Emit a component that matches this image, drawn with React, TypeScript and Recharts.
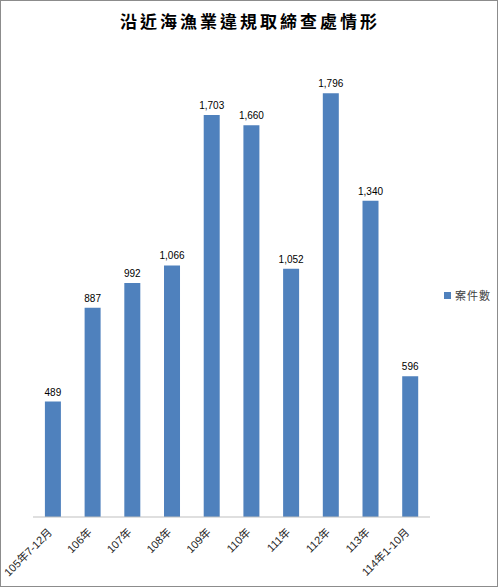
import { BarChart, Bar, XAxis, YAxis, LabelList } from "recharts";

const categories = ["105年7-12月", "106年", "107年", "108年", "109年", "110年", "111年", "112年", "113年", "114年1-10月"];
const caseCounts = [489, 887, 992, 1066, 1703, 1660, 1052, 1796, 1340, 596];

const data = categories.map((period, i) => ({ period, count: caseCounts[i] }));

const BAR_COLOR = "#4F81BD";
const FONT = "'Liberation Sans', 'Noto Sans CJK TC', sans-serif";

function RotatedTick({ x, y, payload }: any) {
    return (
        <text
            x={x}
            y={y + 8}
            transform={`rotate(-45, ${x}, ${y + 8})`}
            textAnchor="end"
            fontSize={11}
            fill="#262626"
            fontFamily={FONT}
        >
            {payload.value}
        </text>
    );
}

function App() {
    return (
        <div
            style={{
                position: "absolute",
                left: 0,
                top: 0,
                width: 500,
                height: 588,
                background: "#fff",
                fontFamily: FONT,
            }}
        >
            {/* 外框 */}
            <div
                style={{
                    position: "absolute",
                    left: 0,
                    top: 0,
                    width: 496,
                    height: 585,
                    border: "1px solid #8c8c8c",
                }}
            />
            <div
                style={{
                    position: "absolute",
                    top: 8,
                    width: 500,
                    textAlign: "center",
                    fontSize: 17,
                    fontWeight: 700,
                    letterSpacing: 3,
                    fontFamily: "'Noto Sans CJK TC', sans-serif",
                    color: "#000",
                }}
            >
                沿近海漁業違規取締查處情形
            </div>
            <BarChart
                width={500}
                height={588}
                data={data}
                margin={{ top: 45, right: 70, left: 33, bottom: 0 }}
                barCategoryGap="30%"
                style={{ position: "absolute", left: 0, top: 0 }}
            >
                <XAxis
                    dataKey="period"
                    height={71}
                    interval={0}
                    tickLine={false}
                    axisLine={{ stroke: "#BFBFBF" }}
                    tick={<RotatedTick />}
                />
                <YAxis hide domain={[0, 2000]} />
                <Bar dataKey="count" fill={BAR_COLOR} isAnimationActive={false}>
                    <LabelList
                        dataKey="count"
                        position="top"
                        offset={6}
                        formatter={(v: any) => Number(v).toLocaleString("en-US")}
                        style={{ fontSize: 10, fill: "#000", fontFamily: FONT }}
                    />
                </Bar>
            </BarChart>
            {/* 圖例 */}
            <div
                style={{
                    position: "absolute",
                    left: 444,
                    top: 287,
                    display: "flex",
                    alignItems: "center",
                    fontSize: 11,
                    color: "#404040",
                    letterSpacing: 1,
                }}
            >
                <span style={{ width: 7, height: 7, background: BAR_COLOR, marginRight: 4, display: "inline-block" }} />
                案件數
            </div>
        </div>
    );
}

export default App;
